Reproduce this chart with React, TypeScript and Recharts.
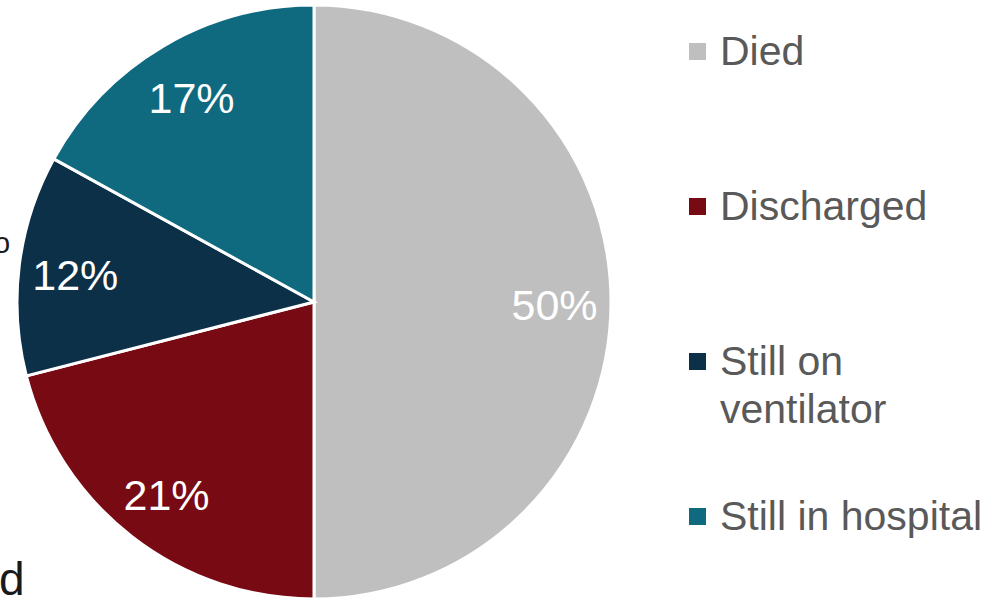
import { Cell, Legend, Pie, PieChart } from "recharts"

const outcomes = ["Died", "Discharged", "Still on ventilator", "Still in hospital"]
const shares = [50, 21, 12, 17]
const colors = ["#BFBFBF", "#780A14", "#0D3049", "#0F6A80"]

const data = outcomes.map((name, i) => ({ name, value: shares[i] }))

const FONT = '"Liberation Sans", Arial, sans-serif'
const RAD = Math.PI / 180

function renderLabel(props: any) {
  const { cx, cy, midAngle, outerRadius, value } = props
  const r = outerRadius * 0.81
  const x = cx + r * Math.cos(-midAngle * RAD)
  const y = cy + r * Math.sin(-midAngle * RAD) + 3
  return (
    <text
      x={x}
      y={y}
      fill="#ffffff"
      fontSize={43}
      fontFamily={FONT}
      textAnchor="middle"
      dominantBaseline="central"
    >
      {`${value}%`}
    </text>
  )
}

function renderLegend() {
  return (
    <div style={{ fontFamily: FONT, fontSize: 41, color: "#595959" }}>
      {data.map((d, i) => (
        <div key={d.name} style={{ display: "flex", alignItems: "flex-start", height: 155 }}>
          <span
            style={{
              width: 17,
              height: 17,
              background: colors[i],
              marginTop: 16,
              marginRight: 14,
              flex: "none",
            }}
          />
          <span style={{ width: 270, lineHeight: "48px" }}>{d.name}</span>
        </div>
      ))}
    </div>
  )
}

export default function App() {
  return (
    <div style={{ position: "absolute", left: 0, top: 0, width: 996, height: 601, overflow: "hidden", background: "#fff" }}>
      <PieChart width={996} height={601} margin={{ top: 0, right: 0, bottom: 0, left: 0 }}>
        <Pie
          data={data}
          dataKey="value"
          nameKey="name"
          cx={314}
          cy={302}
          outerRadius={297}
          startAngle={90}
          endAngle={-270}
          stroke="#ffffff"
          strokeWidth={3}
          label={renderLabel}
          labelLine={false}
          isAnimationActive={false}
        >
          {data.map((d, i) => (
            <Cell key={d.name} fill={colors[i]} />
          ))}
        </Pie>
        <Legend
          content={renderLegend}
          wrapperStyle={{ position: "absolute", left: 689, top: 27, width: 310 }}
        />
      </PieChart>
      <span style={{ position: "absolute", left: -6, top: 227, fontFamily: FONT, fontSize: 29, color: "#1a1a1a", lineHeight: "32px" }}>o</span>
      <span style={{ position: "absolute", left: -1, top: 553, fontFamily: FONT, fontSize: 46, color: "#1a1a1a", lineHeight: "52px" }}>d</span>
    </div>
  )
}
